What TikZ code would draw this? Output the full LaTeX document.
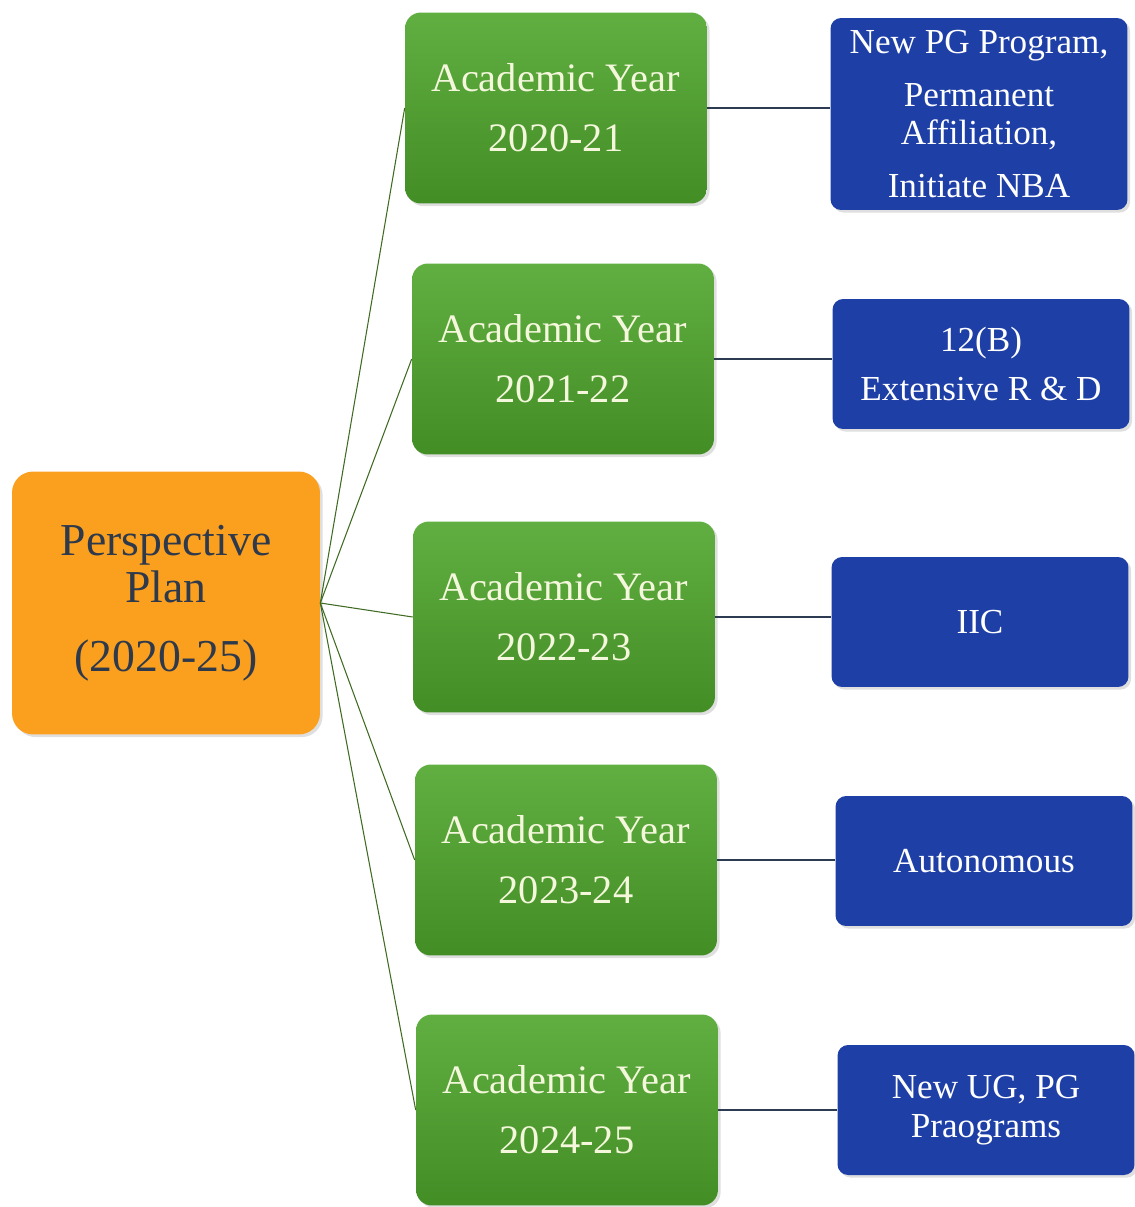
\documentclass[tikz,border=0pt]{standalone}
\usepackage{fontspec}
\setmainfont{Liberation Serif}
\usetikzlibrary{positioning,shadows}
\definecolor{planorange}{HTML}{FBA01E}
\definecolor{plantext}{HTML}{2E3A4C}
\definecolor{yeargreen}{HTML}{4FA62C}
\definecolor{yeartext}{HTML}{F4F7DC}
\definecolor{goalblue}{HTML}{1E3FA6}
\definecolor{branchgreen}{HTML}{3F6A22}
\definecolor{linkslate}{HTML}{2C3A52}
\tikzset{
    box/.style={rounded corners=#1,inner sep=0pt,align=center,
        drop shadow={opacity=.25,shadow xshift=1.5pt,shadow yshift=-1.5pt}},
    box/.default=8pt,
    plan box/.style={box=12pt,fill=planorange,text=plantext,
        minimum width=6.16cm,minimum height=5.26cm,font=\fontsize{26}{27}\selectfont},
    year box/.style={box=9pt,top color=yeargreen!90!white,bottom color=yeargreen!85!black,
        text=yeartext,minimum width=6.04cm,minimum height=3.82cm,font=\fontsize{23}{34}\selectfont},
    goal box/.style={box=6pt,fill=goalblue,text=white,
        minimum width=5.94cm,minimum height=2.6cm,font=\fontsize{20}{22}\selectfont},
    branch line/.style={branchgreen,line width=.6pt},
    link line/.style={linkslate,line width=.7pt},
}

\begin{document}
\begin{tikzpicture}[x=0.02cm,y=-0.02cm]
    \useasboundingbox (0,0) rectangle (1134,1207);
    \node[plan box] (plan) at (166,603) {Perspective\\Plan\\[12pt](2020-25)};
    % academic years
    \node[year box] (y1) at (556,108) {Academic Year\\2020-21};
    \node[year box] (y2) at (563,359) {Academic Year\\2021-22};
    \node[year box] (y3) at (564,617) {Academic Year\\2022-23};
    \node[year box] (y4) at (566,860) {Academic Year\\2023-24};
    \node[year box] (y5) at (567,1110) {Academic Year\\2024-25};
    % targets
    \node[goal box,minimum height=3.84cm] (g1) at (979,114) {New PG Program,\\[8pt]Permanent\\Affiliation,\\[8pt]Initiate NBA};
    \node[goal box] (g2) at (981,364) {12(B)\\[6pt]Extensive R \& D};
    \node[goal box] (g3) at (980,622) {IIC};
    \node[goal box] (g4) at (984,861) {Autonomous};
    \node[goal box] (g5) at (986,1110) {New UG, PG\\Praograms};
    \foreach \i in {1,...,5} {
        \draw[branch line] (plan.east) -- (y\i.west);
        \draw[link line] (y\i.east) -- (y\i.east -| g\i.west);
    }
\end{tikzpicture}
\end{document}
